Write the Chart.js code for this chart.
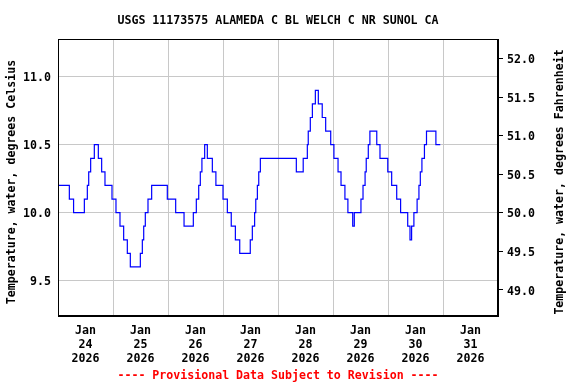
<!DOCTYPE html>
<html>
<head>
<meta charset="utf-8">
<script src="https://cdn.jsdelivr.net/npm/chart.js@4/dist/chart.umd.min.js"></script>
<style>
html,body{margin:0;padding:0;background:#fff;}
#wrap{width:576px;height:384px;}
</style>
</head>
<body>
<div id="wrap"><canvas id="c" width="576" height="384"></canvas></div>
<script>
// Hours since 2026-01-24 00:00 at which the reading changes, and the new reading (deg C)
const hours = [0, 4.95, 6.8, 11.5, 12.8, 13.4, 14.25, 15.85, 17.6, 19.05, 20.5, 23.56,
  25.3, 27.05, 28.65, 30.25, 31.56, 35.93, 36.8, 37.4, 38.1, 39.27, 40.87, 47.7,
  51.35, 55.0, 59.05, 60.36, 61.4, 62.1, 62.8, 64.0, 65.16, 67.35, 68.9, 72.0,
  73.9, 75.6, 77.4, 79.3, 83.9, 84.8, 85.8, 86.3, 87.0, 87.6, 88.3, 104.0,
  107.0, 108.8, 109.2, 110.1, 111.0, 112.3, 113.6, 115.3, 116.8, 119.0, 120.4, 122.2,
  123.5, 125.2, 126.5, 128.6, 129.3, 132.2, 133.1, 134.0, 134.5, 135.4, 136.1, 139.1,
  140.5, 143.9, 145.6, 147.8, 149.5, 152.6, 153.6, 154.3, 155.3, 156.7, 157.5, 158.1,
  158.8, 159.9, 160.8, 164.9, 166.8];
const tempC = [10.2, 10.1, 10.0, 10.1, 10.2, 10.3, 10.4, 10.5, 10.4, 10.3, 10.2, 10.1,
  10.0, 9.9, 9.8, 9.7, 9.6, 9.7, 9.8, 9.9, 10.0, 10.1, 10.2, 10.1,
  10.0, 9.9, 10.0, 10.1, 10.2, 10.3, 10.4, 10.5, 10.4, 10.3, 10.2, 10.1,
  10.0, 9.9, 9.8, 9.7, 9.8, 9.9, 10.0, 10.1, 10.2, 10.3, 10.4, 10.3,
  10.4, 10.5, 10.6, 10.7, 10.8, 10.9, 10.8, 10.7, 10.6, 10.5, 10.4, 10.3,
  10.2, 10.1, 10.0, 9.9, 10.0, 10.1, 10.2, 10.3, 10.4, 10.5, 10.6, 10.5,
  10.4, 10.3, 10.2, 10.1, 10.0, 9.9, 9.8, 9.9, 10.0, 10.1, 10.2, 10.3,
  10.4, 10.5, 10.6, 10.5, 10.5];

const tickMonths = ['Jan','Jan','Jan','Jan','Jan','Jan','Jan','Jan'];
const tickDays = ['24','25','26','27','28','29','30','31'];
const tickYears = ['2026','2026','2026','2026','2026','2026','2026','2026'];
const celsiusTicks = [9.5, 10.0, 10.5, 11.0];
const fahrenheitTicks = [49.0, 49.5, 50.0, 50.5, 51.0, 51.5, 52.0];
const celsiusRange = [9.239, 11.278];
const fahrenheitRange = [48.663, 52.253];
const xRangeHours = [0, 192];

const titleText = 'USGS 11173575 ALAMEDA C BL WELCH C NR SUNOL CA';
const leftTitle = 'Temperature, water, degrees Celsius';
const rightTitle = 'Temperature, water, degrees Fahrenheit';
const footerText = '---- Provisional Data Subject to Revision ----';

const FONT = '"DejaVu Sans Mono", "Liberation Mono", monospace';
const fontSpec = {family: FONT, size: 11.6, weight: 'bold', lineHeight: '14px'};

const points = hours.map((h, i) => ({x: h, y: tempC[i]}));

const textPlugin = {
  id: 'texts',
  afterDraw(chart) {
    const ctx = chart.ctx;
    const a = chart.chartArea;
    ctx.save();
    ctx.strokeStyle = '#000';
    ctx.lineWidth = 1;
    ctx.strokeRect(Math.round(a.left) + 0.5, Math.round(a.top) + 0.5,
      Math.round(a.right - a.left) - 1, Math.round(a.bottom - a.top) - 1);
    ctx.font = 'bold 11.6px ' + FONT;
    ctx.textAlign = 'center';
    ctx.textBaseline = 'middle';
    const cx = (a.left + a.right) / 2;
    ctx.fillStyle = '#000';
    ctx.fillText(titleText, cx, 21);
    ctx.fillStyle = '#ff0000';
    ctx.fillText(footerText, cx, 376);
    ctx.fillStyle = '#000';
    ctx.save();
    ctx.translate(12, 182);
    ctx.rotate(-Math.PI / 2);
    ctx.fillText(leftTitle, 0, 0);
    ctx.restore();
    ctx.save();
    ctx.translate(560, 182);
    ctx.rotate(-Math.PI / 2);
    ctx.fillText(rightTitle, 0, 0);
    ctx.restore();
    ctx.restore();
  }
};

new Chart(document.getElementById('c'), {
  type: 'line',
  data: {
    datasets: [{
      data: points,
      borderColor: '#0000ff',
      borderWidth: 1.2,
      pointRadius: 0,
      stepped: true,
      fill: false,
      yAxisID: 'y'
    }]
  },
  options: {
    responsive: false,
    devicePixelRatio: 1,
    animation: false,
    events: [],
    layout: {padding: {top: 39, left: 0, right: 0, bottom: 0}},
    plugins: {legend: {display: false}, tooltip: {enabled: false}, title: {display: false}},
    scales: {
      x: {
        type: 'linear',
        min: xRangeHours[0],
        max: xRangeHours[1],
        afterBuildTicks(scale) {
          const t = [];
          for (let h = xRangeHours[0]; h <= xRangeHours[1]; h += 12) t.push({value: h});
          scale.ticks = t;
        },
        afterFit(scale) { scale.height = 68; },
        grid: {
          drawTicks: false,
          color: (c) => (c.tick && c.tick.value % 24 === 0) ? '#c8c8c8' : 'rgba(0,0,0,0)',
          lineWidth: 1
        },
        border: {display: true, color: '#000', width: 1},
        ticks: {
          autoSkip: false,
          maxRotation: 0,
          minRotation: 0,
          padding: 8,
          color: '#000',
          font: fontSpec,
          callback: (v) => {
            if (v % 24 === 12) {
              const i = Math.floor(v / 24);
              return [tickMonths[i], tickDays[i], tickYears[i]];
            }
            return '';
          }
        }
      },
      y: {
        type: 'linear',
        position: 'left',
        min: celsiusRange[0],
        max: celsiusRange[1],
        afterBuildTicks(scale) { scale.ticks = celsiusTicks.map(v => ({value: v})); },
        afterFit(scale) { scale.width = 58; },
        grid: {drawTicks: false, color: '#c8c8c8', lineWidth: 1},
        border: {display: true, color: '#000', width: 1},
        ticks: {
          padding: 7,
          labelOffset: 1.5,
          color: '#000',
          font: fontSpec,
          callback: (v) => Number(v).toFixed(1)
        }
      },
      y2: {
        type: 'linear',
        position: 'right',
        min: fahrenheitRange[0],
        max: fahrenheitRange[1],
        afterBuildTicks(scale) { scale.ticks = fahrenheitTicks.map(v => ({value: v})); },
        afterFit(scale) { scale.width = 78; },
        grid: {drawOnChartArea: false, drawTicks: true, tickLength: 5, color: '#000', lineWidth: 1},
        border: {display: true, color: '#000', width: 1},
        ticks: {
          padding: 4,
          labelOffset: 1.5,
          color: '#000',
          font: fontSpec,
          callback: (v) => Number(v).toFixed(1)
        }
      }
    }
  },
  plugins: [textPlugin]
});
</script>
</body>
</html>
